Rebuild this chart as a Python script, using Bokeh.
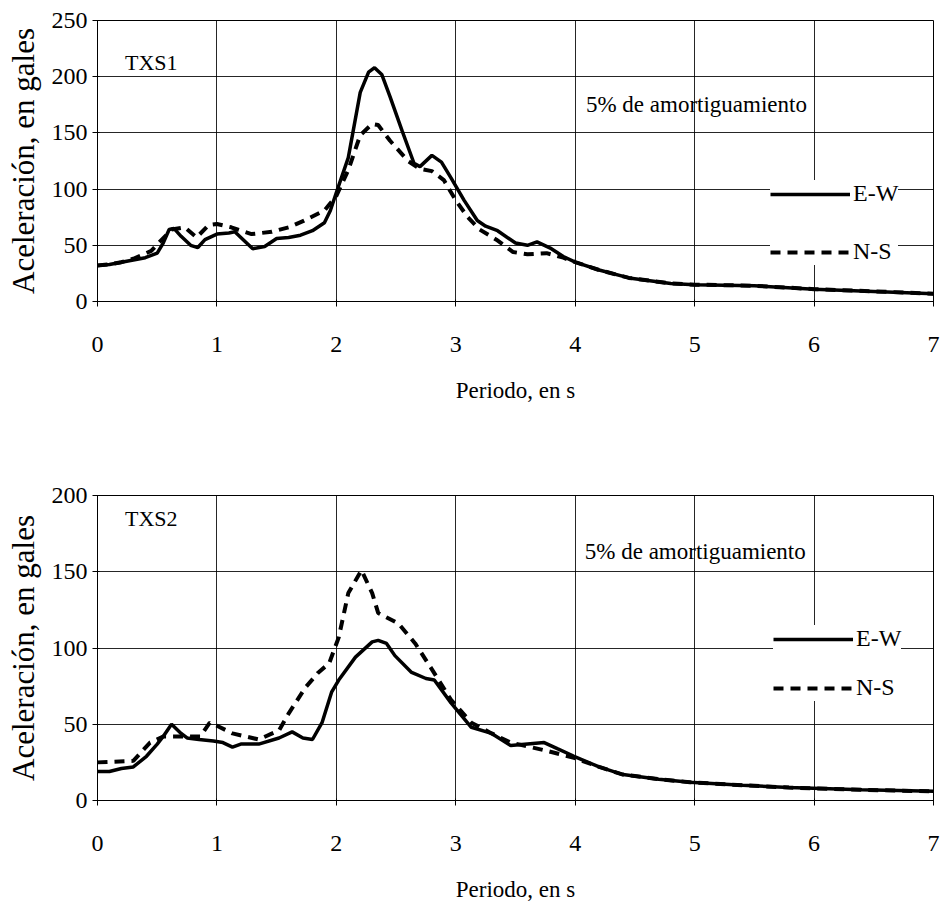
from bokeh.plotting import figure
from bokeh.models import Range1d, FixedTicker, Legend, LegendItem, Label
from bokeh.layouts import column
from bokeh.embed import file_html
from bokeh.resources import INLINE

FONT = "Liberation Serif"

# ---------------- data ----------------
x_ticks = [0, 1, 2, 3, 4, 5, 6, 7]
y_ticks_1 = [0, 50, 100, 150, 200, 250]
y_ticks_2 = [0, 50, 100, 150, 200]

x_label = "Periodo, en s"
y_label = "Aceleración, en gales"
damping_text = "5% de amortiguamiento"
series_names = ["E-W", "N-S"]

# TXS1
txs1_ew_t = [0, 0.1, 0.2, 0.3, 0.4, 0.5, 0.55, 0.6, 0.64, 0.7, 0.78, 0.84, 0.9, 1.0, 1.1, 1.15,
             1.2, 1.3, 1.4, 1.5, 1.6, 1.7, 1.8, 1.9, 1.95, 2.0, 2.1, 2.2, 2.27, 2.32, 2.38, 2.45,
             2.55, 2.65, 2.7, 2.8, 2.88, 2.96, 3.07, 3.18, 3.25, 3.35, 3.5, 3.6, 3.68, 3.8, 3.9,
             4.0, 4.2, 4.45, 4.8, 5.0, 5.5, 6.0, 6.5, 7.0]
txs1_ew_a = [32, 33, 35, 37, 39, 43, 52, 64, 65, 58, 50, 48, 55, 60, 61, 62,
             57, 47, 49, 56, 57, 59, 63, 70, 81, 97, 128, 186, 204, 208, 202, 182,
             152, 123, 120, 130, 124, 110, 90, 72, 67, 63, 52, 50, 53, 47, 40,
             35, 28, 21, 16, 15, 14, 11, 9, 7]

txs1_ns_t = [0, 0.1, 0.2, 0.3, 0.45, 0.52, 0.62, 0.73, 0.83, 0.93, 1.0, 1.12, 1.2, 1.29, 1.46,
             1.6, 1.73, 1.9, 2.0, 2.1, 2.2, 2.3, 2.35, 2.45, 2.6, 2.7, 2.8, 2.9, 3.0, 3.1, 3.2,
             3.34, 3.48, 3.6, 3.76, 3.9, 4.0, 4.2, 4.45, 4.8, 5.0, 5.5, 6.0, 6.5, 7.0]
txs1_ns_a = [32, 33, 35, 38, 45, 53, 64, 66, 57, 68, 69, 66, 63, 60, 62,
             66, 72, 81, 94, 117, 148, 158, 157, 143, 125, 118, 116, 108, 90, 75, 64,
             55, 44, 42, 43, 39, 35, 28, 21, 16, 15, 14, 11, 9, 7]

# TXS2
txs2_ew_t = [0, 0.1, 0.2, 0.3, 0.41, 0.5, 0.55, 0.62, 0.7, 0.75, 0.85, 0.97, 1.05, 1.13, 1.2,
             1.35, 1.52, 1.63, 1.72, 1.8, 1.88, 1.96, 2.02, 2.16, 2.3, 2.35, 2.42, 2.49, 2.63,
             2.75, 2.82, 2.96, 3.13, 3.3, 3.46, 3.6, 3.74, 3.85, 3.99, 4.2, 4.4, 4.7, 4.96,
             5.4, 5.79, 6.4, 7.0]
txs2_ew_a = [19, 19, 21, 22, 29, 37, 42, 50, 44, 41, 40, 39, 38, 35, 37,
             37, 41, 45, 41, 40, 51, 71, 79, 94, 104, 105, 103, 95, 84,
             80, 79, 64, 48, 44, 36, 37, 38, 34, 29, 22, 17, 14, 12,
             10, 8.5, 7, 6]

txs2_ns_t = [0, 0.3, 0.44, 0.55, 0.62, 0.75, 0.86, 0.94, 1.0, 1.13, 1.35, 1.52, 1.6, 1.74,
             1.85, 1.94, 2.02, 2.1, 2.21, 2.3, 2.35, 2.52, 2.66, 2.8, 2.96, 3.13, 3.3, 3.46,
             3.74, 3.99, 4.2, 4.4, 4.7, 4.96, 5.4, 5.79, 6.4, 7.0]
txs2_ns_a = [25, 26, 38, 42, 42, 42, 42, 51, 49, 44, 40, 46, 57, 74,
             84, 90, 107, 136, 151, 136, 123, 116, 103, 86, 66, 51, 44, 38,
             33, 28, 22, 17, 14, 12, 10, 8.5, 7, 6]


def make_fig(height, ymax, yticks, border_top, border_bottom, border_left, border_right,
             station, station_xy, damp_xy, legend_loc, legend_spacing, ew, ns):
    p = figure(width=948, height=height, x_range=Range1d(0, 7), y_range=Range1d(0, ymax),
               output_backend="svg", toolbar_location=None,
               min_border_top=border_top, min_border_bottom=border_bottom,
               min_border_left=border_left, min_border_right=border_right)
    p.background_fill_color = "white"
    p.border_fill_color = "white"
    p.outline_line_color = "black"
    p.outline_line_width = 1

    p.xaxis.ticker = FixedTicker(ticks=x_ticks)
    p.yaxis.ticker = FixedTicker(ticks=yticks)
    for ax in (p.xaxis[0], p.yaxis[0]):
        ax.axis_line_color = "black"
        ax.major_tick_line_color = "black"
        ax.minor_tick_line_color = None
        ax.major_tick_in = 2
        ax.major_tick_out = 5
        ax.major_label_text_font = FONT
        ax.major_label_text_font_size = "24px"
        ax.major_label_text_color = "black"
        ax.axis_label_text_font = FONT
        ax.axis_label_text_font_style = "normal"
        ax.axis_label_text_color = "black"
    p.xaxis.major_label_standoff = 30
    p.xaxis.axis_label = x_label
    p.xaxis.axis_label_text_font_size = "23px"
    p.xaxis.axis_label_standoff = 23
    p.yaxis.major_label_standoff = 5
    p.yaxis.axis_label = y_label
    p.yaxis.axis_label_text_font_size = "31px"
    p.yaxis.axis_label_standoff = 8

    p.xgrid.grid_line_color = "black"
    p.ygrid.grid_line_color = "black"
    p.xgrid.grid_line_alpha = 0.85
    p.ygrid.grid_line_alpha = 0.85

    r_ew = p.line(ew[0], ew[1], line_color="black", line_width=3.5)
    r_ns = p.line(ns[0], ns[1], line_color="black", line_width=4, line_dash="10 7")

    p.add_layout(Label(x=station_xy[0], y=station_xy[1], text=station, text_font=FONT,
                       text_font_size="22px", text_baseline="middle", text_align="left",
                       text_color="black"))
    p.add_layout(Label(x=damp_xy[0], y=damp_xy[1], text=damping_text, text_font=FONT,
                       text_font_size="23px", text_baseline="middle", text_align="left",
                       text_color="black"))

    legend = Legend(items=[LegendItem(label=series_names[0], renderers=[r_ew]),
                           LegendItem(label=series_names[1], renderers=[r_ns])],
                    location=legend_loc, orientation="vertical",
                    glyph_width=80, glyph_height=20, label_height=20,
                    spacing=legend_spacing, padding=10, margin=0,
                    label_standoff=3, border_line_color=None,
                    background_fill_color="white", background_fill_alpha=1.0,
                    label_text_font=FONT, label_text_font_size="24px",
                    label_text_color="black")
    p.add_layout(legend)
    return p


p1 = make_fig(450, 250, y_ticks_1, 20, 149, 92, 15, "TXS1", (0.23, 213), (4.09, 175),
              (673, 36), 31, (txs1_ew_t, txs1_ew_a), (txs1_ns_t, txs1_ns_a))
p2 = make_fig(454, 200, y_ticks_2, 45, 103, 97, 8, "TXS2", (0.23, 185), (4.08, 163),
              (676, 99), 22, (txs2_ew_t, txs2_ew_a), (txs2_ns_t, txs2_ns_a))

layout = column(p1, p2, spacing=0)
open("out.html", "w").write(file_html(layout, INLINE))
